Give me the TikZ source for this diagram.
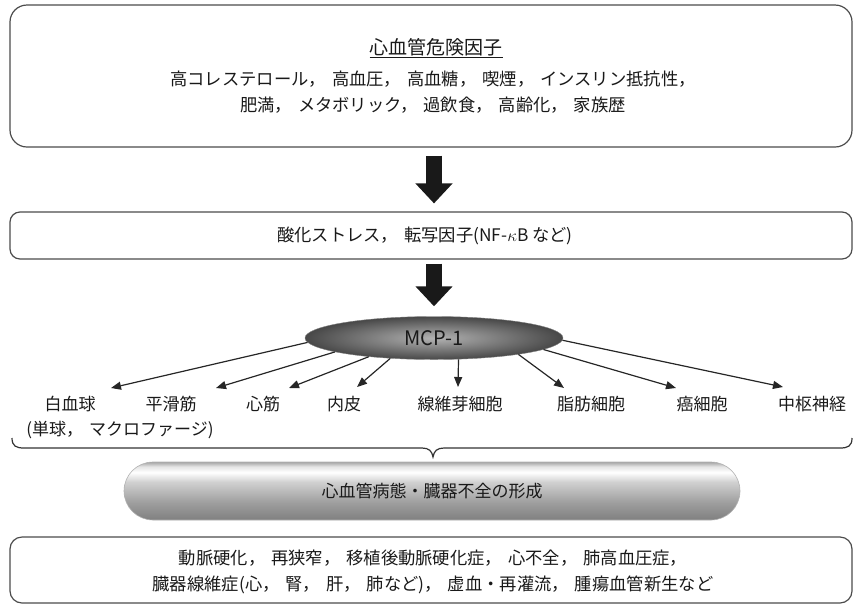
\documentclass[tikz,border=0pt]{standalone}
\usepackage{fontspec}
\setmainfont{Noto Sans CJK JP}
\usetikzlibrary{arrows.meta,shapes.geometric}
\newcommand{\jcomma}{，\hspace{6pt}}
\pgfdeclareverticalshading{pillshade}{100bp}{color(0bp)=(black!50); color(25bp)=(black!50); color(40bp)=(black!38); color(58bp)=(black!18); color(66bp)=(white); color(71bp)=(black!10); color(75bp)=(black!35); color(100bp)=(black!35)}
\tikzset{
  frame/.style={draw=black!70, line width=1.2pt, fill=white, inner sep=0pt},
  txt/.style={font=\fontsize{17.3}{20}\selectfont, text=black!90, inner sep=0pt},
  lbl/.style={font=\fontsize{17}{20}\selectfont, text=black!90, inner sep=0pt},
  thinarrow/.style={draw=black!85, line width=1.2pt, -{Triangle[length=10pt,width=8pt]}},
  blockarrow/.style={draw=black!90, line width=16pt, -{Triangle[length=20pt,width=36pt]}},
}
\begin{document}
\begin{tikzpicture}[x=1pt,y=-1pt]
\useasboundingbox (0,0) rectangle (853,606);
% top box
\node[frame, minimum width=842pt, minimum height=142pt, rounded corners=17pt] (risk) at (431,76) {};
\node[txt, font=\fontsize{19}{22}\selectfont] (risktitle) at (436,48) {\underline{心血管危険因子}};
\node[txt] (risk1) at (433,79) {高コレステロール\jcomma 高血圧\jcomma 高血糖\jcomma 喫煙\jcomma インスリン抵抗性，};
\node[txt] (risk2) at (433,105) {肥満\jcomma メタボリック\jcomma 過飲食\jcomma 高齢化\jcomma 家族歴};
% second box
\node[frame, minimum width=842pt, minimum height=47pt, rounded corners=10pt] (stress) at (431,235.5) {};
\node[txt] (stresstxt) at (425,236) {酸化ストレス\jcomma 転写因子(NF-$\kappa$B など)};
% MCP-1
\node[ellipse, draw=black!50, shade, shading=radial, inner color=black!30, outer color=black!72, minimum width=258pt, minimum height=43pt, inner sep=0pt, font=\fontsize{20}{22}\selectfont, text=black!90] (mcp) at (434,338) {MCP-1};
% block arrows
\draw[blockarrow] ([yshift=-8pt]risk.south -| mcp.center) -- ([yshift=8pt]stress.north -| mcp.center);
\draw[blockarrow] ([yshift=-4pt]stress.south -| mcp.center) -- ([yshift=10pt]mcp.north);
% labels
\node[lbl] (wbc) at (70,404) {白血球};
\node[lbl] (wbcsub) at (120,430) {(単球\jcomma マクロファージ)};
\node[lbl] (smc) at (171,404) {平滑筋};
\node[lbl] (myo) at (263,404) {心筋};
\node[lbl] (endo) at (344,404) {内皮};
\node[lbl] (fib) at (460,404) {線維芽細胞};
\node[lbl] (adip) at (591,404) {脂肪細胞};
\node[lbl] (canc) at (702,404) {癌細胞};
\node[lbl] (cns) at (812,404) {中枢神経};
% arrow ends
\coordinate (twbc) at (111,388);
\coordinate (tsmc) at (216,388);
\coordinate (tmyo) at (289,388);
\coordinate (tendo) at (357,387);
\coordinate (tfib) at (458,387);
\coordinate (tadip) at (564,388);
\coordinate (tcanc) at (676,388);
\coordinate (tcns) at (783,387);
\draw[thinarrow] (mcp.182) -- (twbc);
\draw[thinarrow] (mcp.188) -- (tsmc);
\draw[thinarrow] (mcp.196) -- (tmyo);
\draw[thinarrow] (mcp.205) -- (tendo);
\draw[thinarrow] (mcp.319) -- (tfib);
\draw[thinarrow] (mcp.349) -- (tadip);
\draw[thinarrow] (mcp.354) -- (tcanc);
\draw[thinarrow] (mcp.359.5) -- (tcns);
% brace
\draw[draw=black!80, line width=1.2pt] (12,438) .. controls (12,446) and (16,448) .. (24,448) -- (422,448) .. controls (429,448) and (432,451) .. (433,457) .. controls (434,451) and (437,448) .. (444,448) -- (840,448) .. controls (848,448) and (852,446) .. (852,438);
% pill
\node[rounded corners=29pt, minimum width=616pt, minimum height=58pt, inner sep=0pt, shading=pillshade, shade, draw=black!30, line width=0.6pt, font=\fontsize{17}{20}\selectfont, text=black!90] (pill) at (432,491) {心血管病態・臓器不全の形成};
% bottom box
\node[frame, minimum width=842pt, minimum height=66pt, rounded corners=12pt] (disease) at (431,570) {};
\node[txt] (dis1) at (433,558) {動脈硬化\jcomma 再狭窄\jcomma 移植後動脈硬化症\jcomma 心不全\jcomma 肺高血圧症，};
\node[txt] (dis2) at (433,585) {臓器線維症(心\jcomma 腎\jcomma 肝\jcomma 肺など)\jcomma 虚血・再灌流\jcomma 腫瘍血管新生など};
\end{tikzpicture}
\end{document}
